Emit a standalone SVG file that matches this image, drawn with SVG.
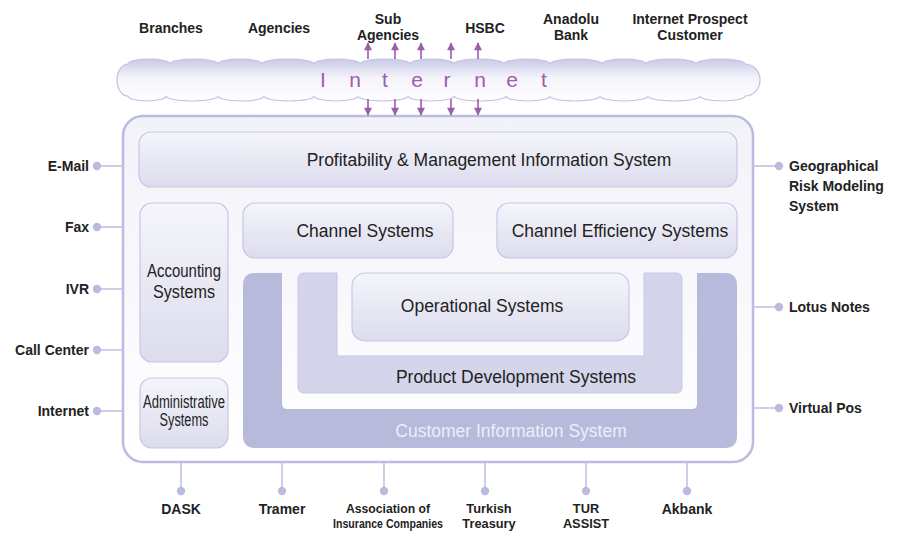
<svg xmlns="http://www.w3.org/2000/svg" width="898" height="533" viewBox="0 0 898 533">
  <defs>
    <linearGradient id="boxFill" x1="0" y1="0" x2="0" y2="1">
      <stop offset="0" stop-color="#f5f5fb"/>
      <stop offset="1" stop-color="#dcdcee"/>
    </linearGradient>
    <linearGradient id="frameFill" x1="0" y1="0" x2="0" y2="1">
      <stop offset="0" stop-color="#f2f2f9"/>
      <stop offset="1" stop-color="#ffffff"/>
    </linearGradient>
    <linearGradient id="cloudFill" x1="0" y1="0" x2="0" y2="1">
      <stop offset="0" stop-color="#c8c9e6"/>
      <stop offset="0.45" stop-color="#f4f4fb"/>
      <stop offset="1" stop-color="#ffffff"/>
    </linearGradient>
    <marker id="arrowHead" viewBox="0 0 10 10" refX="9" refY="5" markerWidth="9" markerHeight="8" orient="auto" markerUnits="userSpaceOnUse">
      <path d="M0,0 L10,5 L0,10 Z" fill="#9b5ea8"/>
    </marker>
    <style>
      .lbl { font-family: "Liberation Sans", Arial, sans-serif; font-weight: bold; font-size: 14px; fill: #222; }
      .lbl2 { font-size: 12.8px; }
      .node { fill: url(#boxFill); stroke: #c5c7e6; stroke-width: 1.2; }
      .ntext { font-family: "Liberation Sans", Arial, sans-serif; font-size: 17.5px; fill: #222; text-anchor: middle; }
      .link { stroke: #c0c2e2; stroke-width: 1.6; fill: none; }
      .dot { fill: #b9bbdf; }
      .arr { stroke: #9b5ea8; stroke-width: 1.6; marker-end: url(#arrowHead); }
    </style>
  </defs>

  <rect width="898" height="533" fill="#ffffff"/>

  <!-- external parties above the cloud -->
  <g id="top-labels" class="lbl" text-anchor="middle">
    <text x="171" y="33">Branches</text>
    <text x="279" y="33">Agencies</text>
    <text x="388" y="24">Sub</text>
    <text x="388" y="40">Agencies</text>
    <text x="485" y="33">HSBC</text>
    <text x="571" y="24">Anadolu</text>
    <text x="571" y="40">Bank</text>
    <text x="690" y="24">Internet Prospect</text>
    <text x="690" y="40">Customer</text>
  </g>

  <!-- internet cloud -->
  <g id="internet-cloud">
    <path fill="url(#cloudFill)" stroke="#c0c2e2" stroke-width="1.2"
      d="M128,64
         a21,5 0 0 1 42,0 a24,5 0 0 1 48,0 a22,5 0 0 1 44,0 a26,5 0 0 1 52,0
         a23,5 0 0 1 46,0 a25,5 0 0 1 50,0 a22,5 0 0 1 44,0 a25,5 0 0 1 50,0
         a23,5 0 0 1 46,0 a26,5 0 0 1 52,0 a22,5 0 0 1 44,0 a25,5 0 0 1 50,0
         a24.5,5 0 0 1 49,0
         a15,16 0 0 1 0,32
         a22.5,5 0 0 1 -45,0 a26,5 0 0 1 -52,0 a24,5 0 0 1 -48,0 a25,5 0 0 1 -50,0
         a22,5 0 0 1 -44,0 a26,5 0 0 1 -52,0 a23,5 0 0 1 -46,0 a25,5 0 0 1 -50,0
         a22,5 0 0 1 -44,0 a25,5 0 0 1 -50,0 a23,5 0 0 1 -46,0 a26,5 0 0 1 -52,0
         a19,5 0 0 1 -38,0
         a11,16 0 0 1 0,-32 Z"/>
    <g font-family="'Liberation Sans', Arial, sans-serif" font-size="21" fill="#9b5ea8" text-anchor="middle">
      <text x="323" y="87">I</text>
      <text x="355" y="87">n</text>
      <text x="385" y="87">t</text>
      <text x="417" y="87">e</text>
      <text x="447" y="87">r</text>
      <text x="480" y="87">n</text>
      <text x="512" y="87">e</text>
      <text x="544" y="87">t</text>
    </g>
  </g>

  <!-- outer application frame -->
  <rect id="frame" x="123" y="116" width="630" height="346" rx="20" ry="20" fill="url(#frameFill)" stroke="#b9bce0" stroke-width="2.5"/>

  <g id="profitability-mis">
    <rect class="node" x="139" y="132" width="598" height="55" rx="12"/>
    <text class="ntext" x="489" y="166">Profitability &amp; Management Information System</text>
  </g>

  <g id="accounting-systems">
    <rect class="node" x="140" y="203" width="88" height="159" rx="12"/>
    <text class="ntext" x="184" y="277" font-size="16" textLength="74" lengthAdjust="spacingAndGlyphs">Accounting</text>
    <text class="ntext" x="184" y="298" font-size="16" textLength="62" lengthAdjust="spacingAndGlyphs">Systems</text>
  </g>

  <g id="administrative-systems">
    <rect class="node" x="140" y="378" width="88" height="70" rx="12"/>
    <text class="ntext" x="184" y="408" font-size="13" textLength="82" lengthAdjust="spacingAndGlyphs">Administrative</text>
    <text class="ntext" x="184" y="426" font-size="13" textLength="49" lengthAdjust="spacingAndGlyphs">Systems</text>
  </g>

  <g id="channel-systems">
    <rect class="node" x="243" y="203" width="210" height="55" rx="12"/>
    <text class="ntext" x="365" y="237">Channel Systems</text>
  </g>

  <g id="channel-efficiency-systems">
    <rect class="node" x="497" y="203" width="240" height="55" rx="12"/>
    <text class="ntext" x="620" y="237">Channel Efficiency Systems</text>
  </g>

  <g id="customer-information-system">
    <path fill="#b8badc" d="M243,285 Q243,273 255,273 L282,273 L282,404 Q282,409 287,409 L692,409 Q697,409 697,404 L697,273 L725,273 Q737,273 737,285 L737,436 Q737,448 725,448 L255,448 Q243,448 243,436 Z"/>
    <text class="ntext" x="511" y="437" style="fill:#eeeef8">Customer Information System</text>
  </g>

  <g id="product-development-systems">
    <path fill="#d4d5ea" stroke="#c5c7e6" stroke-width="1" d="M298,279 Q298,273 304,273 L337,273 L337,356 L644,356 L644,273 L676,273 Q682,273 682,279 L682,387 Q682,393 676,393 L304,393 Q298,393 298,387 Z"/>
    <text class="ntext" x="516" y="383">Product Development Systems</text>
  </g>

  <g id="operational-systems">
    <rect class="node" x="352" y="273" width="277" height="68" rx="13"/>
    <text class="ntext" x="482" y="312">Operational Systems</text>
  </g>

  <!-- connectors -->
  <g id="connectors">
    <!-- cloud to frame traffic -->
    <line class="arr" x1="368" y1="59" x2="368" y2="43"/>
    <line class="arr" x1="395" y1="59" x2="395" y2="43"/>
    <line class="arr" x1="421" y1="59" x2="421" y2="43"/>
    <line class="arr" x1="451" y1="59" x2="451" y2="43"/>
    <line class="arr" x1="478" y1="59" x2="478" y2="43"/>
    <line class="arr" x1="368" y1="99" x2="368" y2="115"/>
    <line class="arr" x1="395" y1="99" x2="395" y2="115"/>
    <line class="arr" x1="421" y1="99" x2="421" y2="115"/>
    <line class="arr" x1="451" y1="99" x2="451" y2="115"/>
    <line class="arr" x1="478" y1="99" x2="478" y2="115"/>

    <!-- left channels -->
    <line class="link" x1="97" y1="166" x2="123" y2="166"/>
    <line class="link" x1="97" y1="227" x2="123" y2="227"/>
    <line class="link" x1="97" y1="289" x2="123" y2="289"/>
    <line class="link" x1="97" y1="350" x2="123" y2="350"/>
    <line class="link" x1="97" y1="411" x2="123" y2="411"/>
    <!-- right systems -->
    <line class="link" x1="753" y1="166" x2="779" y2="166"/>
    <line class="link" x1="753" y1="307" x2="779" y2="307"/>
    <line class="link" x1="753" y1="408" x2="779" y2="408"/>
    <!-- bottom institutions -->
    <line class="link" x1="181" y1="462" x2="181" y2="491"/>
    <line class="link" x1="282" y1="462" x2="282" y2="491"/>
    <line class="link" x1="384" y1="462" x2="384" y2="491"/>
    <line class="link" x1="485" y1="462" x2="485" y2="491"/>
    <line class="link" x1="586" y1="462" x2="586" y2="491"/>
    <line class="link" x1="687" y1="462" x2="687" y2="491"/>

    <circle class="dot" cx="97" cy="166" r="4.2"/>
    <circle class="dot" cx="97" cy="227" r="4.2"/>
    <circle class="dot" cx="97" cy="289" r="4.2"/>
    <circle class="dot" cx="97" cy="350" r="4.2"/>
    <circle class="dot" cx="97" cy="411" r="4.2"/>
    <circle class="dot" cx="779" cy="166" r="4.2"/>
    <circle class="dot" cx="779" cy="307" r="4.2"/>
    <circle class="dot" cx="779" cy="408" r="4.2"/>
    <circle class="dot" cx="181" cy="491" r="4.2"/>
    <circle class="dot" cx="282" cy="491" r="4.2"/>
    <circle class="dot" cx="384" cy="491" r="4.2"/>
    <circle class="dot" cx="485" cy="491" r="4.2"/>
    <circle class="dot" cx="586" cy="491" r="4.2"/>
    <circle class="dot" cx="687" cy="491" r="4.2"/>
  </g>

  <g id="left-labels" class="lbl" text-anchor="end">
    <text x="89" y="171">E-Mail</text>
    <text x="89" y="232">Fax</text>
    <text x="89" y="294">IVR</text>
    <text x="89" y="355">Call Center</text>
    <text x="89" y="416">Internet</text>
  </g>

  <g id="right-labels" class="lbl">
    <text x="789" y="171">Geographical</text>
    <text x="789" y="191">Risk Modeling</text>
    <text x="789" y="211">System</text>
    <text x="789" y="312">Lotus Notes</text>
    <text x="789" y="413">Virtual Pos</text>
  </g>

  <g id="bottom-labels" class="lbl" text-anchor="middle">
    <text x="181" y="514">DASK</text>
    <text x="282" y="514">Tramer</text>
    <text class="lbl2" x="388" y="513" font-size="12.5" textLength="84" lengthAdjust="spacingAndGlyphs">Association of</text>
    <text class="lbl2" x="388" y="528" font-size="12.5" textLength="110" lengthAdjust="spacingAndGlyphs">Insurance Companies</text>
    <text class="lbl2" x="489" y="513">Turkish</text>
    <text class="lbl2" x="489" y="528">Treasury</text>
    <text class="lbl2" x="586" y="513">TUR</text>
    <text class="lbl2" x="586" y="528">ASSIST</text>
    <text x="687" y="514">Akbank</text>
  </g>
</svg>
